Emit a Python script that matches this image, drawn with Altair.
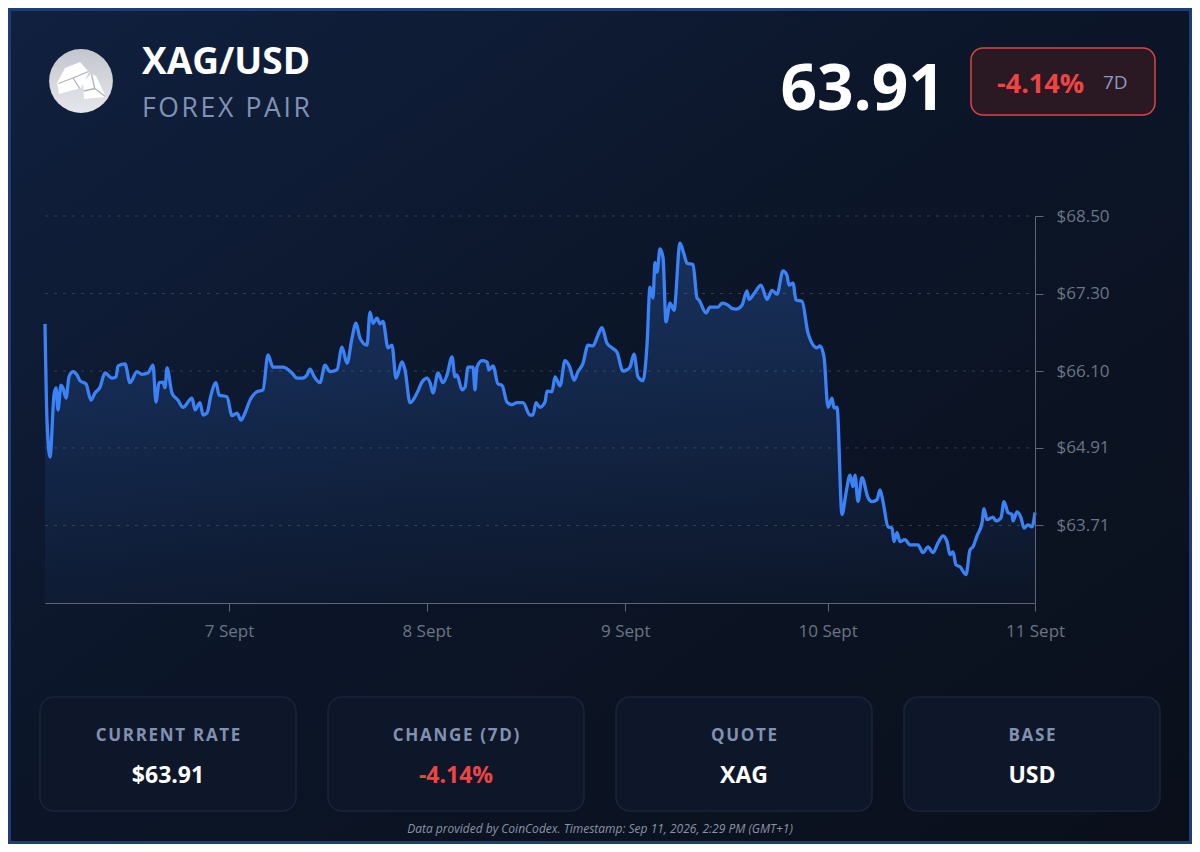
import json
import altair as alt
import pandas as pd

# ---------------- data ----------------
sample_idx = [0, 2, 5, 9, 11, 13, 16, 18, 21, 24, 28, 32, 35, 41, 46, 50, 55, 60, 67, 71,
              73, 80, 85, 92, 97, 103, 108, 111, 114, 118, 120, 122, 127, 133, 138, 147, 150, 155, 158, 162,
              166, 171, 174, 182, 187, 192, 196, 200, 205, 212, 218, 223, 228, 238, 247, 252, 257, 262, 265, 269,
              275, 280, 285, 292, 297, 302, 307, 311, 315, 322, 325, 328, 332, 335, 338, 343, 347, 351, 357, 360,
              365, 372, 377, 382, 385, 388, 393, 398, 402, 407, 410, 412, 417, 420, 423, 428, 430, 432, 437, 442,
              444, 448, 453, 457, 462, 467, 472, 478, 485, 488, 491, 495, 500, 502, 507, 510, 515, 520, 525, 529,
              533, 538, 543, 548, 553, 557, 562, 567, 572, 578, 582, 585, 589, 593, 598, 602, 605, 608, 610, 612,
              615, 618, 621, 625, 629, 635, 639, 642, 648, 652, 654, 661, 665, 673, 677, 683, 687, 691, 697, 702,
              704, 710, 716, 722, 727, 732, 738, 742, 744, 748, 751, 757, 763, 772, 775, 779, 783, 787, 789, 792,
              797, 801, 805, 808, 810, 813, 817, 823, 827, 832, 835, 838, 843, 847, 849, 852, 855, 860, 865, 873,
              878, 883, 888, 893, 898, 902, 905, 908, 911, 915, 921, 925, 928, 932, 937, 939, 942, 948, 951, 956,
              959, 963, 967, 968, 972, 976, 979, 983, 987, 990]
price = [66.83, 65.34, 64.77, 65.73, 65.84, 65.50, 65.88, 65.84, 65.68, 66.01, 66.09, 66.04, 65.95, 65.90, 65.65, 65.76, 65.85, 66.07, 65.99, 66.01,
         66.18, 66.21, 65.92, 66.09, 66.05, 66.07, 66.19, 65.62, 65.92, 65.93, 65.84, 66.15, 65.76, 65.65, 65.54, 65.68, 65.50, 65.61, 65.42, 65.45,
         65.73, 65.92, 65.73, 65.70, 65.41, 65.45, 65.34, 65.45, 65.65, 65.78, 65.81, 66.35, 66.16, 66.16, 66.07, 65.99, 65.99, 66.04, 66.13, 66.02,
         65.92, 66.19, 66.09, 66.12, 66.47, 66.22, 66.61, 66.84, 66.61, 66.50, 67.01, 66.84, 66.92, 66.83, 66.87, 66.46, 66.50, 65.99, 66.24, 66.12,
         65.61, 65.76, 65.93, 65.99, 65.92, 65.76, 66.07, 65.92, 66.04, 66.32, 66.01, 66.04, 65.81, 65.85, 66.16, 66.16, 65.81, 66.16, 66.26, 66.24,
         66.12, 66.18, 65.90, 65.88, 65.62, 65.58, 65.61, 65.61, 65.42, 65.42, 65.61, 65.54, 65.62, 65.79, 65.78, 66.01, 65.87, 66.26, 66.15, 65.96,
         66.09, 66.22, 66.50, 66.49, 66.66, 66.77, 66.53, 66.46, 66.39, 66.10, 66.12, 66.16, 66.36, 66.01, 65.95, 66.50, 67.40, 67.23, 67.78, 67.63,
         67.99, 67.86, 66.86, 67.15, 67.04, 68.08, 67.91, 67.77, 67.75, 67.23, 67.20, 67.00, 67.09, 67.09, 67.15, 67.12, 67.07, 67.06, 67.12, 67.34,
         67.21, 67.32, 67.43, 67.21, 67.35, 67.29, 67.65, 67.58, 67.43, 67.46, 67.20, 67.18, 66.69, 66.46, 66.49, 66.32, 65.54, 65.68, 65.53, 65.54,
         63.88, 64.21, 64.49, 64.31, 64.49, 64.08, 64.45, 64.14, 64.08, 64.11, 64.26, 64.08, 63.69, 63.67, 63.46, 63.60, 63.46, 63.49, 63.41, 63.41,
         63.29, 63.38, 63.29, 63.44, 63.55, 63.46, 63.26, 63.30, 63.10, 63.07, 62.95, 63.33, 63.38, 63.55, 63.75, 63.97, 63.80, 63.84, 63.78, 63.83,
         64.08, 63.91, 63.88, 63.78, 63.92, 63.83, 63.67, 63.72, 63.69, 63.91]

x_tick_positions = [184, 381.7, 580.3, 782.7, 990]
x_tick_labels = ["7 Sept", "8 Sept", "9 Sept", "10 Sept", "11 Sept"]
y_tick_values = [63.71, 64.91, 66.10, 67.30, 68.50]
y_domain = [62.51, 68.50]
x_domain = [0, 990]

pair_name = "XAG/USD"
pair_type = "FOREX PAIR"
current_price = "63.91"
change_text = "-4.14%"
change_period = "7D"
card_titles = ["CURRENT RATE", "CHANGE (7D)", "QUOTE", "BASE"]
card_values = ["$63.91", "-4.14%", "XAG", "USD"]
card_value_colors = ["#ffffff", "#ef4444", "#ffffff", "#ffffff"]
footer_text = "Data provided by CoinCodex. Timestamp: Sep 11, 2026, 2:29 PM (GMT+1)"

# ---------------- layout ----------------
FONT = "Open Sans"
W, H = 990, 387
PAD = {"left": 37, "top": 208, "right": 157, "bottom": 241}
TOTAL_W = W + PAD["left"] + PAD["right"]
TOTAL_H = H + PAD["top"] + PAD["bottom"]
HAIR = "\u200a"


def spaced(s):
    # visual letter spacing
    return HAIR.join(s)


series = pd.DataFrame({"idx": sample_idx, "price": price})
one = pd.DataFrame({"k": [0]})
y_scale = alt.Scale(domain=y_domain, nice=False, zero=False)

x_enc = alt.X(
    "idx:Q",
    scale=alt.Scale(domain=x_domain, nice=False, zero=False),
    axis=alt.Axis(
        values=x_tick_positions,
        labelExpr=f"{json.dumps(x_tick_labels)}[indexof({json.dumps(x_tick_positions)}, datum.value)]",
        grid=False, title=None, domainColor="#5d6677", tickColor="#5d6677",
        tickSize=8, labelPadding=12, labelFontSize=17, labelColor="#6b7484",
        labelFont=FONT, labelFlush=False, labelOverlap=False, zindex=2,
    ),
)
y_enc = alt.Y(
    "price:Q",
    scale=y_scale, stack=None,
    axis=alt.Axis(
        orient="right", values=y_tick_values, format="$.2f", grid=False, title=None,
        domainColor="#5d6677", tickColor="#5d6677", tickSize=8, labelPadding=13,
        labelFontSize=17, labelColor="#6b7484", labelFont=FONT, labelFlush=False,
        labelOverlap=False, zindex=2,
    ),
)

# background card with gradient
bg = alt.Chart(one).mark_rect(
    color=alt.Gradient(
        gradient="linear", x1=0, y1=0, x2=1, y2=1,
        stops=[alt.GradientStop(color="#10203f", offset=0),
               alt.GradientStop(color="#0c1629", offset=0.45),
               alt.GradientStop(color="#0a0f1a", offset=1)],
    ),
    stroke="#1f3d72", strokeWidth=3,
).encode(
    x=alt.value(-PAD["left"] + 1.5), x2=alt.value(TOTAL_W - PAD["left"] - 1.5),
    y=alt.value(-PAD["top"] + 1.5), y2=alt.value(TOTAL_H - PAD["top"] - 1.5),
)

grid = alt.Chart(pd.DataFrame({"price": y_tick_values})).mark_rule(
    color="#343e50", strokeWidth=1, strokeDash=[3, 6]
).encode(y=alt.Y("price:Q", scale=y_scale), x=alt.value(0), x2=alt.value(W))

area = alt.Chart(series).mark_area(
    interpolate="monotone",
    color=alt.Gradient(
        gradient="linear", x1=0, y1=0, x2=0, y2=1,
        stops=[alt.GradientStop(color="rgba(59,130,246,0.25)", offset=0),
               alt.GradientStop(color="rgba(59,130,246,0.03)", offset=1)],
    ),
).encode(x=x_enc, y=y_enc, y2=alt.value(H))

line = alt.Chart(series).mark_line(
    interpolate="monotone", color="#3b82f6", strokeWidth=3.3
).encode(x=x_enc, y=y_enc)


def txt(s, x, y, size, color, weight="normal", align="left", baseline="alphabetic", style="normal"):
    return alt.Chart(pd.DataFrame({"t": [s]})).mark_text(
        font=FONT, fontSize=size, color=color, fontWeight=weight, align=align,
        baseline=baseline, fontStyle=style,
    ).encode(text="t:N", x=alt.value(x), y=alt.value(y))


# header icon (silver ingots on a light disc)
ICON_X, ICON_Y = 36, -135
icon_circle = alt.Chart(one).mark_point(
    shape="circle", filled=True, size=4072, opacity=1,
    color=alt.Gradient(gradient="linear", x1=0, y1=0, x2=0, y2=1,
                       stops=[alt.GradientStop(color="#c3c6cd", offset=0),
                              alt.GradientStop(color="#e6e7eb", offset=1)]),
).encode(x=alt.value(ICON_X), y=alt.value(ICON_Y))

ingots = alt.Chart(one).mark_point(
    shape="M -0.96 0.08 L -0.64 -0.52 L -0.04 -0.76 L 0.32 -0.36 L 0 0.28 L -0.88 0.52 Z "
          "M 0.08 0.04 L 0.4 -0.28 L 0.6 -0.2 L 1.0 0.64 L 0.12 0.72 Z",
    filled=True, size=2500, color="#ffffff", opacity=1,
).encode(x=alt.value(ICON_X), y=alt.value(ICON_Y))

ingot_lines = alt.Chart(one).mark_point(
    shape="M -0.9 0.1 L -0.32 -0.12 L 0.3 -0.38 M -0.32 -0.12 L -0.05 0.3 "
          "M 0.1 0.4 L 0.55 0.3 L 0.98 0.62 M 0.42 -0.26 L 0.55 0.3",
    filled=False, size=2500, color="#aeb2ba", strokeWidth=1.3, opacity=1,
).encode(x=alt.value(ICON_X), y=alt.value(ICON_Y))

title_t = txt(pair_name, 97, -142, 37, "#ffffff", weight="bold")
sub_t = txt(spaced(pair_type), 97, -99, 26.5, "#8292b6")
price_t = txt(current_price, 900, -106, 64, "#ffffff", weight="bold", align="right")

badge = alt.Chart(one).mark_rect(
    cornerRadius=12, fill="#2a1822", stroke="#dc4545", strokeWidth=1.5
).encode(x=alt.value(926), x2=alt.value(1110), y=alt.value(-168), y2=alt.value(-101))
change_t = txt(change_text, 952, -123, 27, "#ef4444", weight="bold")
period_t = txt(change_period, 1058, -127, 19, "#8a9bc0")

layers = [bg, grid, area, line, icon_circle, ingots, ingot_lines, title_t, sub_t,
          price_t, badge, change_t, period_t]

# bottom cards
for i, (ct, cv, cc) in enumerate(zip(card_titles, card_values, card_value_colors)):
    left = -5 + 288 * i
    layers.append(
        alt.Chart(one).mark_rect(
            cornerRadius=14, fill="#0e1729", stroke="#18243c", strokeWidth=1.5
        ).encode(x=alt.value(left), x2=alt.value(left + 256), y=alt.value(481), y2=alt.value(595))
    )
    layers.append(txt(spaced(ct), left + 128, 525, 17, "#8391b0", weight="bold", align="center"))
    layers.append(txt(cv, left + 128, 567, 23, cc, weight="bold", align="center"))

layers.append(txt(footer_text, 555, 613, 12, "#8a93a6", align="center", baseline="middle", style="italic"))

chart = alt.layer(*layers).properties(
    width=W, height=H,
    padding=PAD,
    autosize=alt.AutoSizeParams(type="none"),
    background="#0b1220",
).configure_view(stroke=None)

chart.save("out.html", embed_options={"renderer": "svg", "actions": False})
